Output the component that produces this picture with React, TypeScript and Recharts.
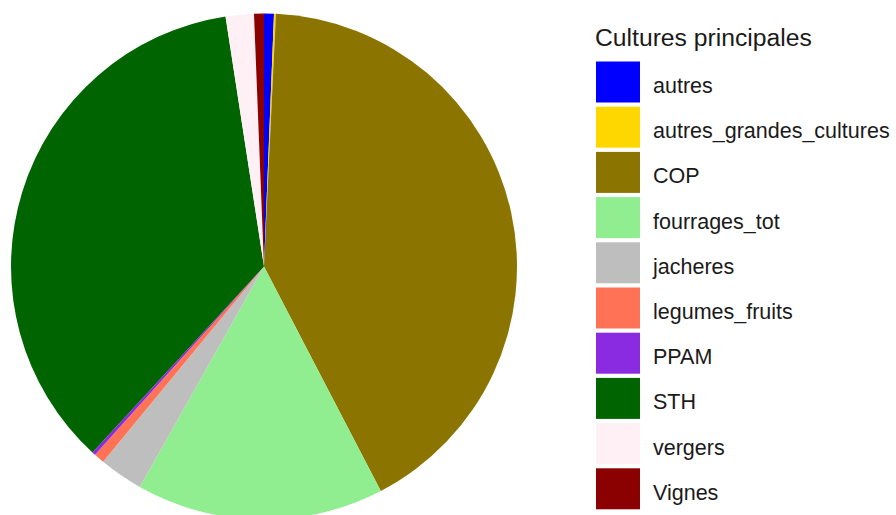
import { PieChart, Pie, Cell, Legend } from 'recharts'

// Cultures principales, share of surface (%)
const cultures = [
  'autres',
  'autres_grandes_cultures',
  'COP',
  'fourrages_tot',
  'jacheres',
  'legumes_fruits',
  'PPAM',
  'STH',
  'vergers',
  'Vignes',
]
const parts = [0.63, 0.12, 41.6, 15.8, 2.8, 0.67, 0.22, 35.7, 1.8, 0.63]
const couleurs = [
  '#0000FF',
  '#FFD700',
  '#8B7500',
  '#90EE90',
  '#BEBEBE',
  '#FF7256',
  '#8A2BE2',
  '#006400',
  '#FFF0F5',
  '#8B0000',
]

const data = cultures.map((name, i) => ({ name, value: parts[i] }))

const LegendeCultures = () => (
  <svg width={306} height={515} style={{ display: 'block' }}>
    <text x={5} y={46} fontSize={24.7} fill="#1a1a1a" fontFamily="Liberation Sans, Arial, sans-serif">
      Cultures principales
    </text>
    {cultures.map((name, i) => (
      <g key={name}>
        <rect x={6} y={61.5 + i * 45.2} width={44} height={41} fill={couleurs[i]} />
        <text
          x={63}
          y={93 + i * 45.2}
          fontSize={21.5}
          fill="#1a1a1a"
          fontFamily="Liberation Sans, Arial, sans-serif"
        >
          {name}
        </text>
      </g>
    ))}
  </svg>
)

export default function App() {
  return (
    <div style={{ position: 'absolute', left: 0, top: 0, width: 896, height: 515, background: '#fff', overflow: 'hidden' }}>
      <PieChart width={896} height={515} margin={{ top: 0, right: 0, bottom: 0, left: 0 }}>
        <Pie
          data={data}
          dataKey="value"
          nameKey="name"
          cx={264}
          cy={266.5}
          outerRadius={253}
          startAngle={90}
          endAngle={-270}
          stroke="none"
          isAnimationActive={false}
        >
          {data.map((entry, index) => (
            <Cell key={`cell-${index}`} fill={couleurs[index]} />
          ))}
        </Pie>
        <Legend
          content={() => <LegendeCultures />}
          wrapperStyle={{ position: 'absolute', left: 590, top: 0, width: 306, height: 515 }}
        />
      </PieChart>
    </div>
  )
}
